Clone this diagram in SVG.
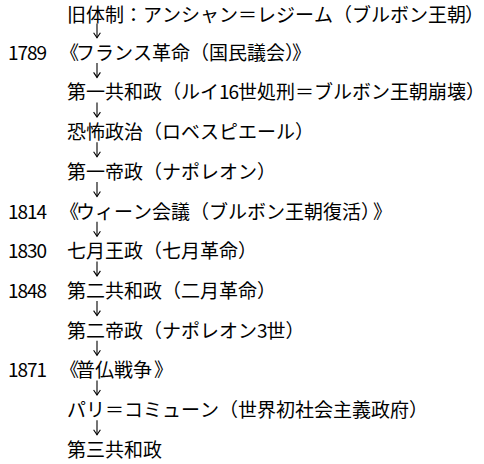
<svg xmlns="http://www.w3.org/2000/svg" width="484" height="464" viewBox="0 0 484 464">
<style>
  text { font-family: "Noto Sans CJK JP", "Noto Sans CJK SC", sans-serif; font-size: 19px; fill: #000; }
  .arr { stroke: #000; stroke-width: 1.1; fill: none; }
</style>
<defs>
  <marker id="head" markerUnits="userSpaceOnUse" markerWidth="10" markerHeight="10" refX="8" refY="5" orient="auto" viewBox="0 0 10 10">
    <path d="M3,1.6 L8,5 L3,8.4" stroke="#000" stroke-width="1.1" fill="none"/>
  </marker>
</defs>
<rect width="484" height="464" fill="#fff"/>
<g id="connectors">
  <path class="arr" marker-end="url(#head)" d="M97,23.6 V37.7"/>
  <path class="arr" marker-end="url(#head)" d="M97,62.9 V77.4"/>
  <path class="arr" marker-end="url(#head)" d="M97,102.6 V117.1"/>
  <path class="arr" marker-end="url(#head)" d="M97,142.3 V156.8"/>
  <path class="arr" marker-end="url(#head)" d="M97,182 V196.5"/>
  <path class="arr" marker-end="url(#head)" d="M97,221.7 V236.2"/>
  <path class="arr" marker-end="url(#head)" d="M97,261.4 V275.9"/>
  <path class="arr" marker-end="url(#head)" d="M97,301.1 V315.6"/>
  <path class="arr" marker-end="url(#head)" d="M97,340.8 V355.3"/>
  <path class="arr" marker-end="url(#head)" d="M97,380.5 V395"/>
  <path class="arr" marker-end="url(#head)" d="M97,420.2 V434.7"/>
</g>
<g id="n0"><text x="67 86 105 124 143 162 181 200 219 238 257 276 295 314 333 352 371 390 409 428 447 465" y="22.2">旧体制：アンシャン＝レジーム（ブルボン王朝）</text></g>
<g id="n1"><text x="8 17.5 27 36.5" y="59.7">1789</text><text x="60 76 95 114 133 152 171 190 209 228 247 266 285 292" y="59.7">《フランス革命（国民議会）》</text></g>
<g id="n2"><text x="67 86 105 124 143 162 181 200 219 228.5 238 257 276 295 314 333 352 371 390 409 428 447 466" y="99.4">第一共和政（ルイ16世処刑＝ブルボン王朝崩壊）</text></g>
<g id="n3"><text x="67 86 105 124 143 162 181 200 219 238 257 276 295" y="139.1">恐怖政治（ロベスピエール）</text></g>
<g id="n4"><text x="67 86 105 124 143 162 181 200 219 238 257" y="178.8">第一帝政（ナポレオン）</text></g>
<g id="n5"><text x="8 17.5 27 36.5" y="218.5">1814</text><text x="60 76 95 114 133 152 171 190 209 228 247 266 285 304 323 342 361 373" y="218.5">《ウィーン会議（ブルボン王朝復活）》</text></g>
<g id="n6"><text x="8 17.5 27 36.5" y="258.2">1830</text><text x="67 86 105 124 143 162 181 200 219 238" y="258.2">七月王政（七月革命）</text></g>
<g id="n7"><text x="8 17.5 27 36.5" y="297.9">1848</text><text x="67 86 105 124 143 162 181 200 219 238 257" y="297.9">第二共和政（二月革命）</text></g>
<g id="n8"><text x="67 86 105 124 143 162 181 200 219 238 257 266.5 285.5" y="337.6">第二帝政（ナポレオン3世）</text></g>
<g id="n9"><text x="8 17.5 27 36.5" y="377.3">1871</text><text x="60 76 95 114 133 154" y="377.3">《普仏戦争》</text></g>
<g id="n10"><text x="67 86 105 124 143 162 181 200 219 238 257 276 295 314 333 352 371 390 409" y="417">パリ＝コミューン（世界初社会主義政府）</text></g>
<g id="n11"><text x="67 86 105 124 143" y="456.7">第三共和政</text></g>
</svg>
